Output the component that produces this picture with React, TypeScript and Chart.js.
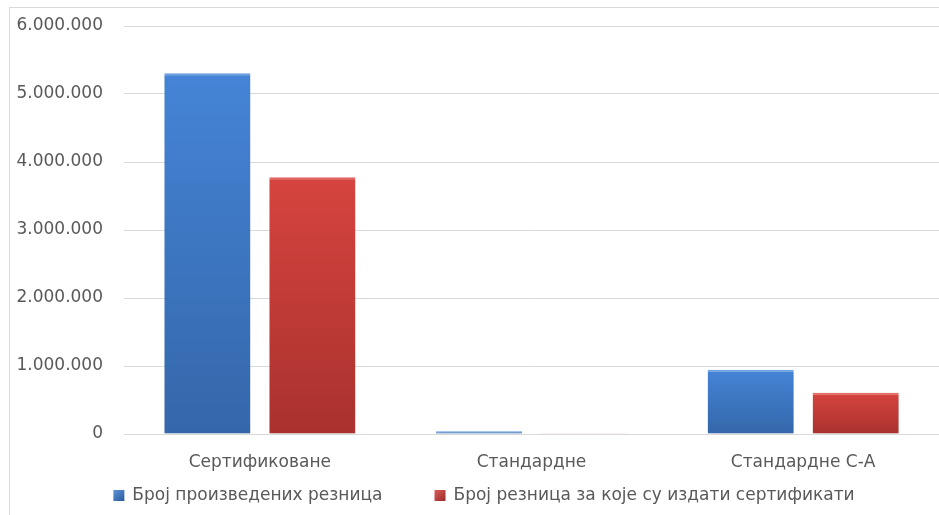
import React, { useEffect, useRef } from "react";
import { Chart, registerables } from "chart.js";

Chart.register(...registerables);

const categories = ["Сертификоване", "Стандардне", "Стандардне С-А"];
const seriesNames = [
  "Број произведених резница",
  "Број резница за које су издати сертификати",
];
const producedValues = [5305000, 40000, 945000];
const certifiedValues = [3775000, 12000, 605000];
const yMin = 0;
const yMax = 6000000;
const yStep = 1000000;

const FONT = "DejaVu Sans";
const TEXT = "#595959";

const fmt = (v: number) => String(Math.round(v)).replace(/\B(?=(\d{3})+(?!\d))/g, ".");

function barGradient(top: string, bottom: string) {
  return (c: any) => {
    const chart = c.chart;
    const ys = chart.scales && chart.scales.y;
    if (!ys || c.type !== "data" || !c.parsed) return top;
    const yTop = ys.getPixelForValue(c.parsed.y);
    const yBot = ys.getPixelForValue(0);
    if (!isFinite(yTop) || !isFinite(yBot) || yBot - yTop < 1) return top;
    const g = chart.ctx.createLinearGradient(0, yTop, 0, yBot);
    g.addColorStop(0, top);
    g.addColorStop(1, bottom);
    return g;
  };
}

const framePlugin = {
  id: "frame",
  beforeDraw(chart: any) {
    const ctx = chart.ctx;
    ctx.save();
    ctx.fillStyle = "#ffffff";
    ctx.fillRect(0, 0, chart.width, chart.height);
    ctx.strokeStyle = "#d9d9d9";
    ctx.lineWidth = 1;
    ctx.strokeRect(9.5, 7.5, chart.width + 20, chart.height + 20);
    ctx.restore();
  },
};

const shadowPlugin = {
  id: "barShadow",
  beforeDatasetsDraw(chart: any) {
    const ctx = chart.ctx;
    ctx.save();
    ctx.shadowColor = "rgba(0,0,0,0.18)";
    ctx.shadowBlur = 3;
    ctx.shadowOffsetX = 2;
    ctx.shadowOffsetY = 1;
  },
  afterDatasetsDraw(chart: any) {
    chart.ctx.restore();
  },
};

const legendPlugin = {
  id: "bottomLegend",
  afterDraw(chart: any) {
    const ctx = chart.ctx;
    ctx.save();
    ctx.font = `17px "${FONT}"`;
    ctx.textBaseline = "middle";
    const box = 11;
    const gapBoxText = 8;
    const gapItems = 52;
    const items = chart.data.datasets.map((ds: any) => ({
      label: ds.label as string,
      c1: ds.legendTop as string,
      c2: ds.legendBottom as string,
    }));
    const widths = items.map((it: any) => box + gapBoxText + ctx.measureText(it.label).width);
    const total = widths.reduce((a: number, b: number) => a + b, 0) + gapItems * (items.length - 1);
    let x = 484 - total / 2;
    const y = 495.5;
    items.forEach((it: any, i: number) => {
      const g = ctx.createLinearGradient(x, y - box / 2, x + box, y + box / 2);
      g.addColorStop(0, it.c1);
      g.addColorStop(1, it.c2);
      ctx.fillStyle = g;
      ctx.fillRect(x, y - box / 2, box, box);
      ctx.fillStyle = TEXT;
      ctx.fillText(it.label, x + box + gapBoxText, y);
      x += widths[i] + gapItems;
    });
    ctx.restore();
  },
};

export default function App() {
  const ref = useRef<HTMLCanvasElement | null>(null);

  useEffect(() => {
    if (!ref.current) return;
    const chart = new Chart(ref.current, {
      type: "bar",
      data: {
        labels: categories,
        datasets: [
          {
            label: seriesNames[0],
            data: producedValues,
            backgroundColor: barGradient("#4584D6", "#3467AA"),
            borderColor: "#6FA5E8",
            borderWidth: { top: 2, left: 0, right: 0, bottom: 0 },
            borderSkipped: false,
            barPercentage: 0.82,
            categoryPercentage: 0.773,
            legendTop: "#5E95DA",
            legendBottom: "#2A5A9A",
          } as any,
          {
            label: seriesNames[1],
            data: certifiedValues,
            backgroundColor: barGradient("#D6443F", "#A9312E"),
            borderColor: "#E96A65",
            borderWidth: { top: 2, left: 0, right: 0, bottom: 0 },
            borderSkipped: false,
            barPercentage: 0.82,
            categoryPercentage: 0.773,
            legendTop: "#DA5E5A",
            legendBottom: "#9A2A28",
          } as any,
        ],
      },
      options: {
        animation: false,
        responsive: false,
        maintainAspectRatio: false,
        layout: { padding: { left: 10, right: 0, top: 26, bottom: 0 } },
        plugins: {
          legend: { display: false },
          tooltip: { enabled: false },
          title: { display: false },
        },
        scales: {
          x: {
            grid: { display: false, drawTicks: false },
            border: { display: false },
            ticks: {
              color: TEXT,
              font: { family: FONT, size: 17 },
              padding: 18,
              maxRotation: 0,
            },
            afterFit: (s: any) => {
              s.height = 81;
              s.paddingLeft = 0;
              s.paddingRight = 0;
            },
          },
          y: {
            min: yMin,
            max: yMax,
            grid: { color: "#d9d9d9", lineWidth: 1, drawTicks: false },
            border: { display: false },
            ticks: {
              stepSize: yStep,
              color: TEXT,
              font: { family: FONT, size: 17 },
              padding: 21,
              callback: (v: any) => fmt(Number(v)),
            },
            afterFit: (s: any) => {
              s.width = 114;
              s.paddingTop = 0;
              s.paddingBottom = 0;
            },
          },
        },
      },
      plugins: [framePlugin, shadowPlugin, legendPlugin],
    });
    return () => chart.destroy();
  }, []);

  return (
    <div
      style={{
        position: "fixed",
        left: 0,
        top: 0,
        width: 939,
        height: 515,
        overflow: "hidden",
        background: "#fff",
      }}
    >
      <canvas ref={ref} width={939} height={515} style={{ width: 939, height: 515, display: "block" }} />
    </div>
  );
}
